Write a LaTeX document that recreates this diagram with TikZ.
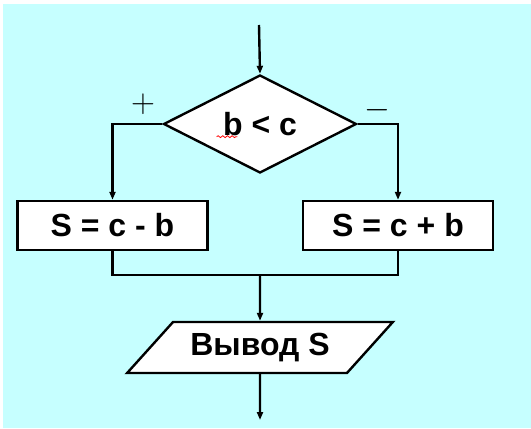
\documentclass[tikz,border=0pt]{standalone}
\usepackage{fontspec}
\setmainfont{Liberation Sans}
\usepackage{xcolor}
\usetikzlibrary{shapes.geometric, arrows.meta, positioning, decorations.pathmorphing}
\definecolor{bgcyan}{HTML}{C6FFFF}

\begin{document}
\begin{tikzpicture}[
    x=0.75pt, y=-0.75pt,
    line width=1.8pt,
    >={Triangle[length=6pt, width=4.5pt]},
    txt/.style={font=\fontsize{24}{26}\selectfont\bfseries},
    decision/.style={diamond, draw, fill=white, txt, aspect=2, inner sep=0pt, minimum width=144.75pt, minimum height=73.5pt},
    procbox/.style={rectangle, draw, fill=white, txt, minimum width=142.5pt, minimum height=36.75pt},
    iobox/.style={trapezium, draw, fill=white, txt, trapezium left angle=38, trapezium right angle=142, trapezium stretches=true, minimum width=199.5pt, minimum height=38.25pt, inner sep=0pt},
    sign/.style={font=\fontsize{26}{26}\selectfont}
]

% Background
\fill[white] (0,0) rectangle (531,428);
\fill[bgcyan] (3,4) rectangle (531,428);
\useasboundingbox (0,0) rectangle (531,428);

% Condition
\coordinate (start) at (259,25);
\node[decision] (cond) at (260,124) {b < c};
\draw[red, line width=0.6pt, decorate, decoration={snake, amplitude=0.7pt, segment length=3.5pt}]
    ([xshift=-32.5pt, yshift=-9.5pt]cond.center) -- ([xshift=-17pt, yshift=-9.5pt]cond.center);

% Branch labels
\node[sign] (plus) at (143,104) {$+$};
\node[sign] (minus) at (377,110) {$-$};

% Branches
\node[procbox] (sub) at (112.5,225.5) {S = c - b};
\node[procbox] (add) at (398,225.5) {S = c + b};

% Output
\coordinate (merge) at (260,275);
\node[iobox] (out) at (260,347.5) {Вывод S};
\coordinate (finish) at (260,420);

% Arrows
\draw[->] (start) -- (cond.north);
\draw[->] (cond.west) -| (sub.north);
\draw[->] (cond.east) -| (add.north);
\draw (sub.south) |- (merge) -| (add.south);
\draw[->] (merge) -- (out.north);
\draw[->] (out.south) -- (finish);

\end{tikzpicture}
\end{document}
